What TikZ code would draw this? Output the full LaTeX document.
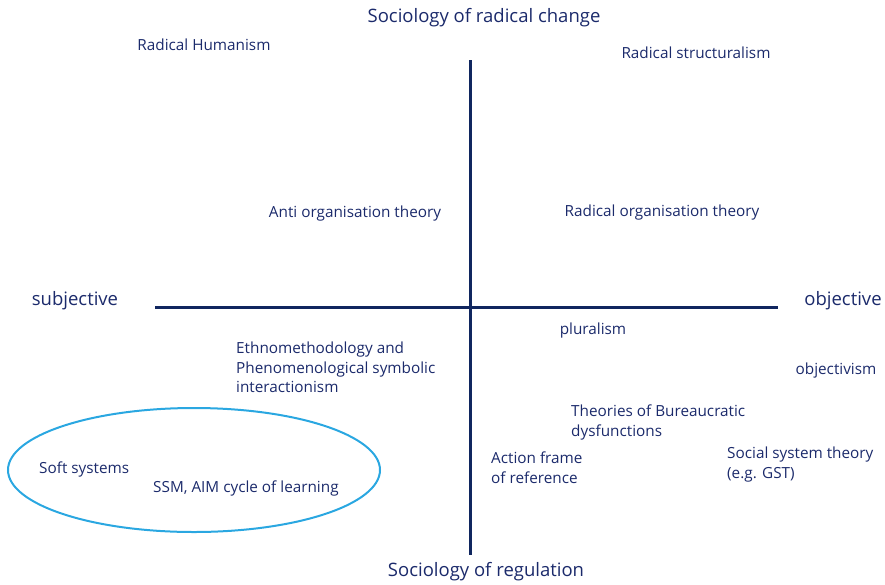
\documentclass[tikz,border=0pt]{standalone}
\usepackage{fontspec}
\setmainfont{Open Sans}
\begin{document}
\begin{tikzpicture}[x=1pt,y=-1pt,
  ink/.style={text=navy},
  lbl/.style={ink,font=\fontsize{15.3}{18}\selectfont,inner sep=0pt},
  big/.style={ink,font=\fontsize{18.5}{21}\selectfont,inner sep=0pt},
  multi/.style={lbl,align=left,anchor=north west,font=\fontsize{15.3}{19.5}\selectfont},
  axis/.style={draw=navyline,line width=3pt}]
\definecolor{navy}{HTML}{1B2A6B}
\definecolor{navyline}{HTML}{10265F}
\definecolor{skyring}{HTML}{2AA7E1}
\useasboundingbox (0,0) rectangle (885,584);
% axes
\coordinate (vtop) at (470,60);
\coordinate (vbot) at (470,555);
\coordinate (hl) at (155,307);
\coordinate (hr) at (778,307);
\draw[axis] (vtop) -- (vbot);
\draw[axis] (hl) -- (hr);
% axis ends
\node[big] (change) at (484,18) {Sociology of radical change};
\node[big] (regul) at (486,572) {Sociology of regulation};
\node[big] (subj) at (75,301) {subjective};
\node[big] (obj) at (843,301) {objective};
% quadrant labels
\node[lbl] (rh) at (204,45) {Radical Humanism};
\node[lbl] (rs) at (696,53) {Radical structuralism};
\node[lbl] (anti) at (355,214) {Anti organisation theory};
\node[lbl] (rot) at (662,213) {Radical organisation theory};
\node[lbl] (plur) at (593,331) {pluralism};
\node[lbl] (objv) at (836,371) {objectivism};
\node[multi] (ethno) at (236,342) {Ethnomethodology and\\Phenomenological symbolic\\interactionism};
\node[multi] (bur) at (571,405) {Theories of Bureaucratic\\dysfunctions};
\node[multi] (act) at (491,452) {Action frame\\of reference};
\node[multi] (sst) at (727,447) {Social system theory\\(e.g. GST)};
% soft systems region
\draw[draw=skyring,line width=2pt] (194,470) ellipse [x radius=186,y radius=62];
\node[lbl,anchor=west] (soft) at (39,469) {Soft systems};
\node[lbl,anchor=west] (ssm) at (153,488) {SSM, AIM cycle of learning};
\end{tikzpicture}
\end{document}
